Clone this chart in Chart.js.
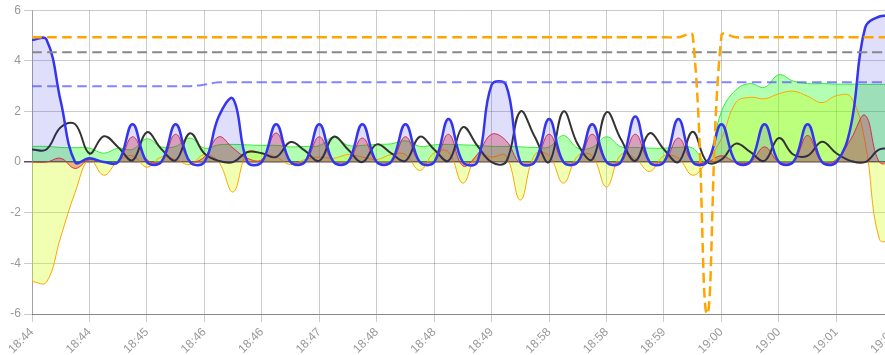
<!DOCTYPE html>
<html>
<head>
<meta charset="utf-8">
<script src="https://cdn.jsdelivr.net/npm/chart.js@4/dist/chart.umd.min.js"></script>
<style>
html,body{margin:0;padding:0;overflow:hidden;background:#fff;width:885px;height:355px;}
#wrap{position:absolute;left:0;top:0;width:907px;height:355px;}
</style>
</head>
<body>
<div id="wrap"><canvas id="c"></canvas></div>
<script>
// shown tick labels (every 4th sample)
const tickLabels = ["18:44","18:44","18:45","18:46","18:46","18:47","18:48","18:48","18:49","18:58","18:58","18:59","19:00","19:00","19:01","19:02"];
const pointsPerTick = 4;

const limitHigh = [4.93,4.93,4.93,4.93,4.93,4.93,4.93,4.93,4.93,4.93,4.93,4.93,4.93,4.93,4.93,4.93,4.93,4.93,4.93,4.93,4.93,4.93,4.93,4.93,4.93,4.93,4.93,4.93,4.93,4.93,4.93,4.93,4.93,4.93,4.93,4.93,4.93,4.93,4.93,4.93,4.93,4.93,4.93,4.93,4.93,4.93,5.0,-6.0,5.0,4.93,4.93,4.93,4.93,4.93,4.93,4.93,4.93,4.93,4.93,4.93,4.93];
const limitGrey = [4.34,4.34,4.34,4.34,4.34,4.34,4.34,4.34,4.34,4.34,4.34,4.34,4.34,4.34,4.34,4.34,4.34,4.34,4.34,4.34,4.34,4.34,4.34,4.34,4.34,4.34,4.34,4.34,4.34,4.34,4.34,4.34,4.34,4.34,4.34,4.34,4.34,4.34,4.34,4.34,4.34,4.34,4.34,4.34,4.34,4.34,4.34,4.34,4.34,4.34,4.34,4.34,4.34,4.34,4.34,4.34,4.34,4.34,4.34,4.34,4.34];
const limitBlue = [3.0,3.0,3.0,3.0,3.0,3.0,3.0,3.0,3.0,3.0,3.0,3.0,3.06,3.15,3.15,3.15,3.15,3.15,3.15,3.15,3.15,3.15,3.15,3.15,3.15,3.15,3.15,3.15,3.15,3.15,3.15,3.15,3.15,3.15,3.15,3.15,3.15,3.15,3.15,3.15,3.15,3.15,3.15,3.15,3.15,3.15,3.15,3.15,3.15,3.15,3.15,3.15,3.15,3.15,3.15,3.15,3.15,3.15,3.15,3.15,3.15];
const blueSeries = [4.82,4.85,2.4,0,0.15,0,0,1.5,0,0,1.5,0,0,1.8,2.5,0,0,1.5,0,0,1.5,0,0,1.5,0,0,1.5,0,0,1.7,0,0,3.05,3.05,0,0,1.7,0,0,1.5,0,0,1.8,0,0,1.7,0,0,1.5,0,0,1.5,0,0,1.5,0,0,1.4,5.3,5.75,5.75];
const blackSeries = [0.5,0.5,1.38,1.5,0.34,1.02,0.59,0.07,1.18,0.52,0.07,1.14,0.34,0.05,0.0,0.4,0.35,0.2,0.79,0.45,0.05,1.0,0.5,0.0,0.7,0.35,0.05,1.0,0.5,0.05,1.38,0.65,0.0,0.0,2.0,1.0,0.0,2.0,0.7,0.1,1.97,0.9,0.05,1.14,0.5,0.0,1.2,0.0,0.1,0.73,0.4,0.05,0.95,0.3,0.25,0.8,0.35,0.05,0.0,0.5,0.5];
const redSeries = [0,0,0.15,-0.25,0.1,0,0,1.0,0.1,0,1.1,0.05,0.2,1.0,0.55,0.15,0.1,1.15,0,0,1.0,0,0,0.95,0,0,1.0,0,0,1.1,-0.15,0.3,1.1,0.85,-0.05,0,1.1,0,0,1.1,0,0,1.1,0,0,0.95,0,0,0.25,0,0,0.6,0,0,1.05,0,0.1,0.9,1.85,0,0];
const orangeSeries = [-4.72,-4.75,-2.95,-1.2,0.12,-0.52,0.05,0.25,-0.2,0.2,0.1,-0.1,0.3,0.0,-1.18,0.4,0.35,0.2,-0.1,0.1,0.2,0.15,0.3,0.2,0.1,0.3,0.3,-0.33,0.37,0.4,-0.83,0.3,0.2,0.25,-1.5,0.3,0.25,-0.83,0.25,0.25,-0.98,0.3,0.15,-0.37,0.25,0.15,-0.52,0.05,0.93,2.35,2.56,2.5,2.7,2.8,2.6,2.35,2.62,2.58,0.8,-3.05,-3.1];
const greenSeries = [0.62,0.62,0.58,0.57,0.55,0.35,0.55,0.5,0.92,0.6,0.62,0.95,0.55,0.68,0.7,0.68,0.66,0.66,0.6,0.62,0.65,0.98,0.66,0.66,0.7,0.72,0.84,0.62,0.68,0.7,0.68,0.66,0.62,0.62,0.6,0.58,0.6,1.05,0.55,0.58,1.0,0.6,0.58,0.55,0.55,0.58,0.55,0.0,2.0,2.85,3.1,2.95,3.45,3.2,3.1,3.1,3.08,3.08,3.07,3.07,3.07];

const categories = blueSeries.map((_, i) => i % pointsPerTick === 0 ? tickLabels[i / pointsPerTick] : '');

const dash = [10, 5];
const datasets = [
  {data: limitHigh, borderColor: '#FFA500', borderWidth: 2.5, borderDash: dash, fill: false},
  {data: limitGrey, borderColor: '#888888', borderWidth: 2, borderDash: dash, fill: false},
  {data: limitBlue, borderColor: 'rgba(90,90,255,0.75)', borderWidth: 2, borderDash: dash, fill: false},
  {data: blueSeries, borderColor: '#3535ee', borderWidth: 2.5, fill: 'origin', backgroundColor: 'rgba(30,30,230,0.14)'},
  {data: blackSeries, borderColor: '#333333', borderWidth: 2, fill: false},
  {data: redSeries, borderColor: '#ee3333', borderWidth: 1, fill: 'origin', backgroundColor: 'rgba(230,30,50,0.33)'},
  {data: orangeSeries, borderColor: '#FFA500', borderWidth: 1, fill: 'origin', backgroundColor: 'rgba(205,255,0,0.3)'},
  {data: greenSeries, borderColor: '#33ee33', borderWidth: 1, fill: 'origin', backgroundColor: 'rgba(0,255,0,0.3)'}
];

new Chart(document.getElementById('c'), {
  type: 'line',
  data: {labels: categories, datasets: datasets},
  options: {
    responsive: true,
    maintainAspectRatio: false,
    animation: false,
    elements: {point: {radius: 0}, line: {tension: 0.4}},
    plugins: {legend: {display: false}, tooltip: {enabled: false}},
    scales: {
      x: {
        afterFit: s => { s.height = 41; },
        ticks: {
          autoSkip: false, maxRotation: 45, minRotation: 45, color: '#999',
          font: {family: 'Liberation Sans, Arial, sans-serif', size: 12},
          callback: function(v, i) { return i % pointsPerTick === 0 ? categories[i] : null; }
        },
        grid: {color: 'rgba(0,0,0,0.2)'},
        border: {color: '#888'}
      },
      y: {
        min: -6, max: 6,
        afterFit: s => { s.width = 32; },
        ticks: {stepSize: 2, color: '#999', font: {family: 'Liberation Sans, Arial, sans-serif', size: 12}},
        grid: {
          color: ctx => ctx.tick && ctx.tick.value === 0 ? 'rgba(70,40,70,0.85)' : 'rgba(0,0,0,0.2)',
          lineWidth: ctx => ctx.tick && ctx.tick.value === 0 ? 1.5 : 1
        },
        border: {color: 'rgba(0,0,0,0.2)'}
      }
    }
  }
});
</script>
</body>
</html>
